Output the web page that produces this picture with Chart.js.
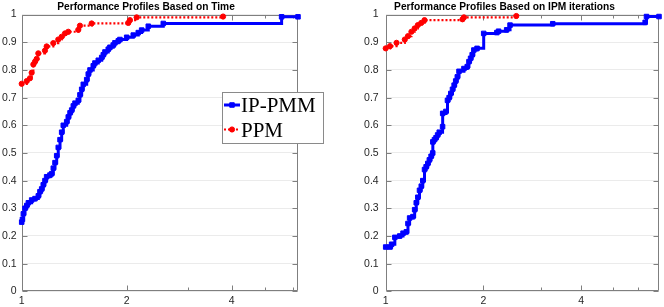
<!DOCTYPE html>
<html><head><meta charset="utf-8">
<script src="https://cdn.jsdelivr.net/npm/chart.js@4/dist/chart.umd.min.js"></script>
<style>
html,body{margin:0;padding:0;background:#fff;overflow:hidden}
#wrap{position:relative;width:664px;height:307px}
canvas{position:absolute;top:0}
</style></head><body>
<div id="wrap">
<canvas id="left" width="332" height="307" style="left:0"></canvas>
<canvas id="right" width="332" height="307" style="left:332px"></canvas>
</div>
<script>
// ---------- data ----------
const TITLES = ['Performance Profiles Based on Time', 'Performance Profiles Based on IPM iterations'];
const SERIES = ['IP-PMM', 'PPM'];
const X_TICK_VALUES = [1, 2, 3, 4, 5, 6];
const X_TICK_LABELS = ['1', '2', '', '4', '', ''];
const X_MAJOR = [1, 2, 4];
const Y_TICK_LABELS = ['0', '0.1', '0.2', '0.3', '0.4', '0.5', '0.6', '0.7', '0.8', '0.9', '1'];

// Time profile
const timeTau_IPPMM = [1.000, 1.005, 1.011, 1.022, 1.034, 1.045, 1.068, 1.092, 1.116, 1.128, 1.141, 1.153, 1.166, 1.179, 1.205, 1.219, 1.232, 1.246, 1.260, 1.273, 1.288, 1.302, 1.316, 1.346, 1.360, 1.376, 1.391, 1.406, 1.422, 1.453, 1.469, 1.486, 1.502, 1.536, 1.552, 1.570, 1.604, 1.622, 1.658, 1.696, 1.714, 1.733, 1.771, 1.791, 1.830, 1.851, 1.892, 1.913, 2.000, 2.089, 2.159, 2.208, 2.307, 2.547, 5.564, 6.200];
const timeRho_IPPMM = [0.25, 0.26, 0.28, 0.30, 0.31, 0.32, 0.33, 0.335, 0.345, 0.36, 0.37, 0.385, 0.40, 0.414, 0.42, 0.425, 0.445, 0.465, 0.49, 0.52, 0.548, 0.575, 0.60, 0.613, 0.63, 0.645, 0.655, 0.67, 0.68, 0.69, 0.71, 0.73, 0.748, 0.765, 0.785, 0.80, 0.815, 0.825, 0.835, 0.845, 0.855, 0.865, 0.875, 0.882, 0.89, 0.898, 0.905, 0.91, 0.918, 0.926, 0.935, 0.944, 0.958, 0.968, 0.992, 0.992];
const timeTau_PPM = [1.000, 1.034, 1.056, 1.068, 1.080, 1.092, 1.104, 1.116, 1.166, 1.179, 1.232, 1.273, 1.302, 1.331, 1.360, 1.453, 1.469, 1.587, 2.021, 2.044, 2.136, 3.780];
const timeRho_PPM = [0.75, 0.76, 0.77, 0.79, 0.82, 0.83, 0.84, 0.86, 0.87, 0.885, 0.897, 0.91, 0.92, 0.932, 0.938, 0.945, 0.96, 0.968, 0.97, 0.98, 0.99, 0.993];

// IPM iterations profile
const iterTau_IPPMM = [1.000, 1.031, 1.043, 1.067, 1.105, 1.131, 1.158, 1.171, 1.185, 1.213, 1.228, 1.242, 1.256, 1.271, 1.287, 1.301, 1.317, 1.332, 1.348, 1.363, 1.380, 1.396, 1.397, 1.413, 1.429, 1.445, 1.462, 1.497, 1.498, 1.533, 1.550, 1.568, 1.587, 1.606, 1.625, 1.643, 1.662, 1.682, 1.742, 1.783, 1.805, 1.826, 1.847, 1.869, 1.912, 2.004, 2.200, 2.227, 2.359, 2.416, 3.270, 6.300, 6.360, 6.950];
const iterRho_IPPMM = [0.16, 0.16, 0.17, 0.195, 0.20, 0.21, 0.215, 0.245, 0.265, 0.27, 0.295, 0.32, 0.34, 0.365, 0.38, 0.40, 0.44, 0.45, 0.462, 0.475, 0.488, 0.50, 0.54, 0.548, 0.555, 0.565, 0.575, 0.595, 0.643, 0.65, 0.69, 0.70, 0.715, 0.73, 0.745, 0.76, 0.775, 0.795, 0.805, 0.812, 0.83, 0.842, 0.855, 0.872, 0.878, 0.932, 0.935, 0.94, 0.945, 0.962, 0.967, 0.972, 0.993, 0.993];
const iterTau_PPM = [1.000, 1.031, 1.080, 1.145, 1.171, 1.200, 1.228, 1.256, 1.287, 1.317, 1.724, 1.742, 2.525];
const iterRho_PPM = [0.878, 0.886, 0.898, 0.91, 0.922, 0.938, 0.95, 0.962, 0.97, 0.98, 0.983, 0.99, 0.995];

// ---------- styling ----------
const AXIS_COLOR = '#7f7f7f';
const TICK_TEXT = '#262626';
Chart.defaults.font.family = '"Liberation Sans", Arial, Helvetica, sans-serif';

const pts = (xs, ys) => xs.map((v, i) => ({x: v, y: ys[i]}));

const axesBox = {
  id: 'axesBox',
  beforeDatasetsDraw(chart) {
    const {ctx, chartArea: a, scales: {x, y}} = chart;
    const L = Math.round(a.left) + 0.5, R = Math.round(a.right) - 0.5;
    const T = Math.round(a.top) + 0.5, B = Math.round(a.bottom) - 0.5;
    ctx.save();
    ctx.strokeStyle = AXIS_COLOR; ctx.lineWidth = 1;
    ctx.beginPath();
    ctx.rect(L, T, R - L, B - T);
    X_TICK_VALUES.forEach(v => {
      const px = Math.round(x.getPixelForValue(v)) + 0.5;
      const len = X_MAJOR.includes(v) ? 5 : 3;
      ctx.moveTo(px, B); ctx.lineTo(px, B - len);
      ctx.moveTo(px, T); ctx.lineTo(px, T + len);
    });
    y.ticks.forEach(t => {
      const py = Math.round(y.getPixelForValue(t.value)) + 0.5;
      ctx.moveTo(L, py); ctx.lineTo(L + 5, py);
      ctx.moveTo(R, py); ctx.lineTo(R - 5, py);
    });
    ctx.stroke();
    ctx.restore();
  }
};

const topTitle = {
  id: 'topTitle',
  afterDraw(chart, args, o) {
    const ctx = chart.ctx;
    ctx.save();
    ctx.font = 'bold 10.2px "Liberation Sans", Arial, sans-serif';
    ctx.fillStyle = '#000';
    ctx.textAlign = 'center';
    ctx.textBaseline = 'alphabetic';
    ctx.fillText(o.text, o.cx, 9.5);
    ctx.restore();
  }
};

const boxLegend = {
  id: 'boxLegend',
  afterDraw(chart, args, o) {
    if (!o.show) return;
    const ctx = chart.ctx;
    ctx.save();
    ctx.fillStyle = '#fff';
    ctx.fillRect(222, 92, 102, 52);
    ctx.strokeStyle = '#8a8a8a'; ctx.lineWidth = 1;
    ctx.strokeRect(222.5, 92.5, 101, 51);
    chart.data.datasets.forEach((ds, i) => {
      const yc = 105 + 24.5 * i;
      ctx.save();
      ctx.strokeStyle = ds.borderColor; ctx.lineWidth = ds.borderWidth;
      ctx.setLineDash(ds.borderDash || []);
      ctx.beginPath(); ctx.moveTo(224, yc); ctx.lineTo(240, yc); ctx.stroke();
      ctx.setLineDash([]);
      ctx.fillStyle = ds.pointBackgroundColor; ctx.strokeStyle = ds.pointBorderColor;
      ctx.lineWidth = ds.pointBorderWidth;
      Chart.helpers.drawPoint(ctx, {pointStyle: ds.pointStyle, radius: ds.pointRadius, rotation: 0, borderWidth: ds.pointBorderWidth}, 232, yc);
      ctx.restore();
      ctx.fillStyle = '#000';
      ctx.font = '21px "Liberation Serif", "Times New Roman", serif';
      ctx.textBaseline = 'alphabetic';
      ctx.textAlign = 'left';
      ctx.fillText(ds.label, 241, yc + 7);
    });
    ctx.restore();
  }
};

function makeChart(id, ipData, ppData, cfg) {
  return new Chart(document.getElementById(id), {
    type: 'line',
    data: {
      datasets: [
        {label: SERIES[0], data: ipData, stepped: 'before', borderColor: '#0000ff', backgroundColor: '#0000ff',
         borderWidth: 3, pointStyle: 'rect', pointRadius: 3.2, pointBackgroundColor: '#0000ff', pointBorderColor: '#0000ff',
         pointBorderWidth: 1, clip: 8, fill: false},
        {label: SERIES[1], data: ppData, stepped: 'before', borderColor: '#ff0000', backgroundColor: '#ff0000',
         borderWidth: 2.2, borderDash: [2, 2], pointStyle: 'circle', pointRadius: 2.6, pointBackgroundColor: '#ff0000', pointBorderColor: '#ff0000',
         pointBorderWidth: 1, clip: 8, fill: false}
      ]
    },
    options: {
      responsive: false, animation: false, events: [],
      layout: {padding: {top: 14.6, right: cfg.padRight, left: 0, bottom: 0}},
      plugins: {
        legend: {display: false}, title: {display: false}, tooltip: {enabled: false},
        topTitle: {text: cfg.title, cx: cfg.titleX},
        boxLegend: {show: cfg.legend}
      },
      scales: {
        x: {
          type: 'logarithmic', min: 1, max: cfg.xmax,
          afterBuildTicks: s => { s.ticks = X_TICK_VALUES.map(v => ({value: v})); },
          afterFit: s => { s.height = 15.7; },
          grid: {display: false, drawTicks: false},
          border: {display: false},
          ticks: {autoSkip: false, maxRotation: 0, minRotation: 0, padding: 3.5, color: TICK_TEXT,
                  font: {size: 10.5},
                  callback: v => { const i = X_TICK_VALUES.indexOf(v); return i >= 0 ? X_TICK_LABELS[i] : ''; }}
        },
        y: {
          type: 'linear', min: 0, max: 1,
          afterFit: s => { s.width = cfg.yWidth; },
          grid: {display: true, drawTicks: false, color: '#ebebeb', lineWidth: 1},
          border: {display: false},
          ticks: {stepSize: 0.1, padding: cfg.yPad, color: TICK_TEXT, font: {size: 10.5},
                  callback: (v, i) => Y_TICK_LABELS[i]}
        }
      }
    },
    plugins: [axesBox, topTitle, boxLegend]
  });
}

makeChart('left', pts(timeTau_IPPMM, timeRho_IPPMM), pts(timeTau_PPM, timeRho_PPM),
  {title: TITLES[0], titleX: 146, xmax: 6.2, padRight: 34, yWidth: 21.7, yPad: 5, legend: true});
makeChart('right', pts(iterTau_IPPMM, iterRho_IPPMM), pts(iterTau_PPM, iterRho_PPM),
  {title: TITLES[1], titleX: 172.5, xmax: 6.95, padRight: 1.5, yWidth: 53.7, yPad: 7, legend: false});
</script>
</body></html>
